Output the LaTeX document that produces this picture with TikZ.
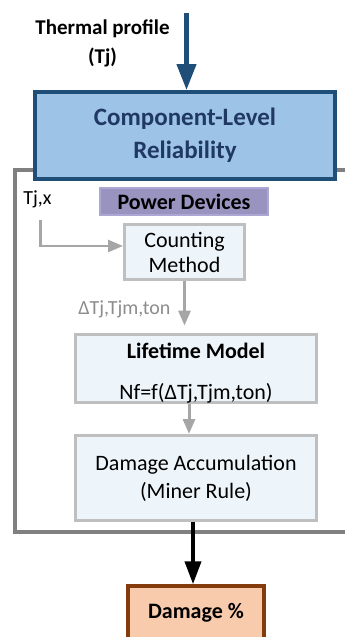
\documentclass[tikz,border=0pt]{standalone}
\usepackage{fontspec}
\setmainfont{Carlito}
\usetikzlibrary{arrows.meta}
\definecolor{navy}{RGB}{31,78,121}
\definecolor{navytext}{RGB}{32,56,100}
\definecolor{skyfill}{RGB}{157,195,230}
\definecolor{framegray}{RGB}{128,128,128}
\definecolor{boxgray}{RGB}{191,191,191}
\definecolor{boxfill}{RGB}{238,245,250}
\definecolor{arrowgray}{RGB}{166,166,166}
\definecolor{labelgray}{RGB}{140,140,140}
\definecolor{lavender}{RGB}{153,147,191}
\definecolor{lavenderedge}{RGB}{172,166,212}
\definecolor{peach}{RGB}{248,203,173}
\definecolor{rust}{RGB}{132,60,12}

\begin{document}
\begin{tikzpicture}[x=1pt, y=-1pt,
        stagebox/.style={draw=boxgray, fill=boxfill, line width=3pt, inner sep=0pt, align=center,
                         font=\fontsize{22}{28}\selectfont},
        greyarrow/.style={draw=arrowgray, line width=2.5pt, -{Triangle[length=15pt,width=12pt]}}]
            \clip (0,0) rectangle (345,637);
            \useasboundingbox (0,0) rectangle (345,637);
            % outer frame, open to the right
            \draw[framegray, line width=4pt] (352,169.5) -- (15,169.5) -- (15,532) -- (352,532);
            % input
            \node[align=center, font=\bfseries\fontsize{21}{29}\selectfont] (thermal) at (102.5,43) {Thermal profile\\(Tj)};
            \coordinate (thermtop) at (186.5,13);
            \node[draw=navy, fill=skyfill, line width=4pt, minimum width=300pt, minimum height=87pt, inner sep=0pt,
                  align=center, text=navytext, font=\bfseries\fontsize{25}{33}\selectfont]
                  (comp) at (185,135.5) {Component-Level\\Reliability};
            \draw[navy, line width=4.5pt, -{Triangle[length=26pt,width=19pt]}] (thermtop) -- (thermtop |- comp.north);
            % inside the frame
            \node[draw=lavenderedge, fill=lavender, line width=2pt, minimum width=168pt, minimum height=27pt, inner sep=0pt,
                  font=\bfseries\fontsize{22}{25}\selectfont] (power) at (184,201.5) {Power Devices};
            \node[font=\fontsize{20}{24}\selectfont] (tjx) at (37.5,199) {Tj,x};
            \coordinate (tjxs) at (40.5,220);
            \node[stagebox, font=\fontsize{22}{25}\selectfont, minimum width=120pt, minimum height=55pt] (counting) at (184.5,252) {Counting\\Method};
            \node[stagebox, minimum width=241pt, minimum height=66pt] (lifetime) at (196,368.5)
                  {\rule{0pt}{24pt}\textbf{Lifetime Model}\\[13pt]Nf=f(ΔTj,Tjm,ton)};
            \node[stagebox, minimum width=241pt, minimum height=85pt] (damacc) at (196,478) {Damage Accumulation\\(Miner Rule)};
            \node[draw=rust, fill=peach, line width=3.5pt, minimum width=136pt, minimum height=54pt, inner sep=0pt,
                  font=\bfseries\fontsize{22}{26}\selectfont] (damage) at (196,613) {Damage \%};
            \node[text=labelgray, anchor=east, font=\fontsize{20}{24}\selectfont] (deltalabel) at (174,309) {ΔTj,Tjm,ton};
            % connectors
            \draw[greyarrow] (tjxs) |- ([yshift=6pt]counting.west);
            \draw[greyarrow, line width=3pt, shorten >=7pt] (counting.south) -- (counting.south |- lifetime.north);
            \draw[greyarrow, line width=3pt] ([xshift=-7pt]lifetime.south) -- ([xshift=-7pt]damacc.north);
            \draw[black, line width=4pt, -{Triangle[length=23pt,width=16pt]}] ([xshift=-3pt]damacc.south) -- ([xshift=-3pt]damage.north);
        \end{tikzpicture}
\end{document}
